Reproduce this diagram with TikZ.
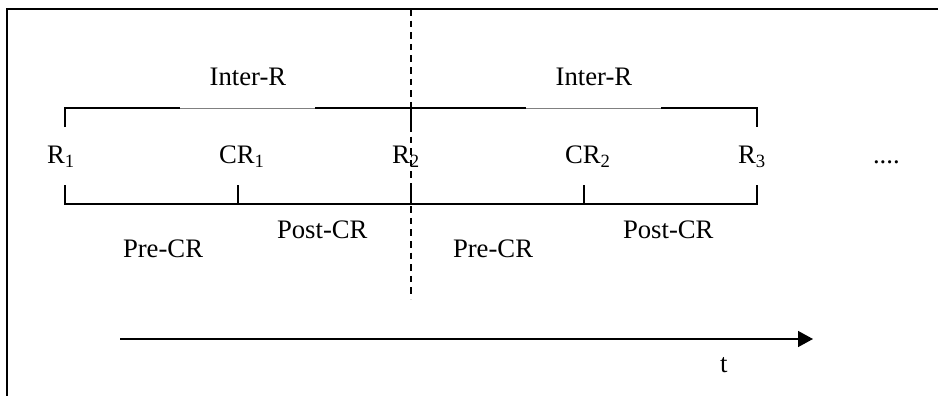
\documentclass[tikz,border=0pt]{standalone}
\usepackage{fontspec}
\setmainfont{Liberation Serif}
\usetikzlibrary{arrows.meta}
\begin{document}
\begin{tikzpicture}[x=0.5pt,y=-0.5pt,
  lbl/.style={anchor=base west,inner sep=0pt,outer sep=0pt,font=\fontsize{13.35pt}{15pt}\selectfont},
  ctr/.style={anchor=base,inner sep=0pt,outer sep=0pt,font=\fontsize{13.35pt}{15pt}\selectfont},
  tl/.style={line width=0.65pt,black},
  gr/.style={line width=0.4pt,gray},
  frame/.style={line width=0.9pt,black}]
\useasboundingbox (0,0) rectangle (938,396);
% frame
\coordinate (fl) at (7,396);
\coordinate (ft) at (7,9);
\coordinate (fr) at (938,9);
\draw[frame] (fl) -- (ft) -- (fr);
% coordinates
\coordinate (t1) at (65,108);
\coordinate (t1d) at (65,127);
\coordinate (g1a) at (180,108);
\coordinate (g1b) at (315,108);
\coordinate (t2) at (411,108);
\coordinate (t2d) at (411,127);
\coordinate (g2a) at (526,108);
\coordinate (g2b) at (661,108);
\coordinate (t3) at (757,108);
\coordinate (t3d) at (757,127);
\coordinate (b1) at (65,204);
\coordinate (b1u) at (65,185);
\coordinate (c1) at (238,204);
\coordinate (c1u) at (238,185);
\coordinate (b2) at (411,204);
\coordinate (b2u) at (411,185);
\coordinate (c2) at (584,204);
\coordinate (c2u) at (584,185);
\coordinate (b3) at (757,204);
\coordinate (b3u) at (757,185);
% top bracket
\draw[tl] (t1d) -- (t1) -- (g1a);
\draw[gr] (g1a) -- (g1b);
\draw[tl] (g1b) -- (g2a);
\draw[gr] (g2a) -- (g2b);
\draw[tl] (g2b) -- (t3) -- (t3d);
\draw[tl] (t2) -- (t2d);
% bottom bracket
\draw[tl] (b1u) -- (b1) -- (b3) -- (b3u);
\draw[tl] (c1) -- (c1u);
\draw[tl] (b2) -- (b2u);
\draw[tl] (c2) -- (c2u);
% dashed line
\coordinate (dtop) at (411,9);
\coordinate (dbot) at (411,299);
\draw[line width=0.65pt,dash pattern=on 3.3pt off 2.5pt] (dtop) -- (dbot);
% labels
\node[ctr] (ir1) at (248,85) {Inter-R};
\node[ctr] (ir2) at (594,85) {Inter-R};
\node[lbl] (r1) at (47,163) {R\textsubscript{1}};
\node[lbl] (cr1) at (219,163) {CR\textsubscript{1}};
\node[lbl] (r2) at (392,163) {R\textsubscript{2}};
\node[lbl] (cr2) at (565,163) {CR\textsubscript{2}};
\node[lbl] (r3) at (738,163) {R\textsubscript{3}};
\node[lbl] (dots) at (873,163) {....};
\node[lbl] (pre1) at (123,257) {Pre-CR};
\node[lbl] (post1) at (277,238) {Post-CR};
\node[lbl] (pre2) at (453,257) {Pre-CR};
\node[lbl] (post2) at (623,238) {Post-CR};
\node[lbl] (t) at (720,372) {t};
% time arrow
\coordinate (as) at (120,339);
\coordinate (ae) at (813,339);
\draw[line width=0.75pt,-{Triangle[length=7.5pt,width=8pt]}] (as) -- (ae);
\end{tikzpicture}
\end{document}
